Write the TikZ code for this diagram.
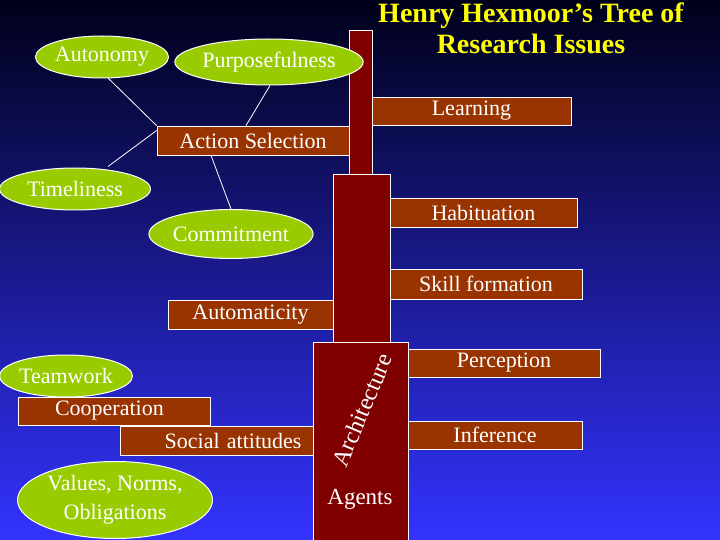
\documentclass[tikz,border=0pt]{standalone}
\usepackage{fontspec}
\setmainfont{Liberation Serif}
\usetikzlibrary{shapes.geometric}
\definecolor{boxc}{HTML}{993300}
\definecolor{trunkc}{HTML}{800000}
\definecolor{ellc}{HTML}{99CC00}
\definecolor{titlec}{HTML}{FFFF00}
\begin{document}
\begin{tikzpicture}[x=1pt,y=-1pt,
  bx/.style={draw=white,line width=0.8pt,fill=boxc,text=white,inner sep=0pt,font=\fontsize{22}{24}\selectfont},
  el/.style={ellipse,draw=white,line width=1pt,fill=ellc,text=white,inner sep=0pt,font=\fontsize{22}{24}\selectfont},
  tr/.style={draw=white,line width=0.8pt,fill=trunkc},
  ln/.style={draw=white,line width=0.8pt}]
\shade[top color=black!90!blue, middle color={rgb,255:red,44;green,44;blue,216}, bottom color={rgb,255:red,51;green,51;blue,255}] (0,0) rectangle (720,540);
\useasboundingbox (0,0) rectangle (720,540);
% trunks
\path[tr] (349,30) rectangle (372,174);
\path[tr] (333,174) rectangle (390,342);
\path[tr] (313,342) rectangle (408,545);
% boxes
\node[bx,minimum width=199,minimum height=28] (learn) at (471.5,111) {Learning};
\node[bx,minimum width=192,minimum height=29] (act) at (253,140.5) {Action Selection};
\node[bx,minimum width=187,minimum height=29] (hab) at (483.5,212.5) {Habituation};
\node[bx,minimum width=192,minimum height=30] (skill) at (486,284) {Skill formation};
\node[bx,minimum width=165,minimum height=29] (auto) at (250.5,314.5) {Automaticity};
\node[bx,minimum width=192,minimum height=28] (perc) at (504,363) {Perception};
\node[bx,minimum width=174,minimum height=28] (inf) at (495,435) {Inference};
\node[bx,minimum width=192,minimum height=28,text width=186,align=left] (coop) at (114,411) {\hspace*{34pt}Cooperation};
\node[bx,minimum width=193,minimum height=29,text width=170,align=right] (soc) at (216.5,440.5) {Social attitudes};
% ellipses
\node[el,minimum width=122,minimum height=42] (aut) at (102,57) {Autonomy};
\node[el,minimum width=167,minimum height=46] (pur) at (269,62) {\raisebox{-4pt}{Purposefulness}};
\node[el,minimum width=151,minimum height=42] (tim) at (75,189) {Timeliness};
\node[el,minimum width=139,minimum height=49] (com) at (231,234) {Commitment};
\node[el,minimum width=133,minimum height=42] (team) at (66,376) {Teamwork};
\node[el,minimum width=195,minimum height=77,align=center,font=\fontsize{22}{29}\selectfont] (val) at (115,500) {Values, Norms,\\Obligations};
% connectors
\draw[ln] (aut.south) ++(6,-0.5) -- (act.north west);
\draw[ln] (pur.south) ++(1,0) -- ([xshift=-7]act.north);
\draw[ln] ([yshift=10]act.west) -- ([xshift=33,yshift=1]tim.north);
\draw[ln] ([xshift=-42]act.south) -- (com.north);
% trunk text
\node[text=white,rotate=67,font=\fontsize{24}{26}\selectfont] (arch) at (362,410) {Architecture};
\node[text=white,font=\fontsize{23}{24}\selectfont] (ag) at (360,499) {Agents};
% title
\node[text=titlec,font=\bfseries\fontsize{28}{31}\selectfont,align=center] (title) at (531,28) {Henry Hexmoor’s Tree of\\Research Issues};
\end{tikzpicture}
\end{document}
